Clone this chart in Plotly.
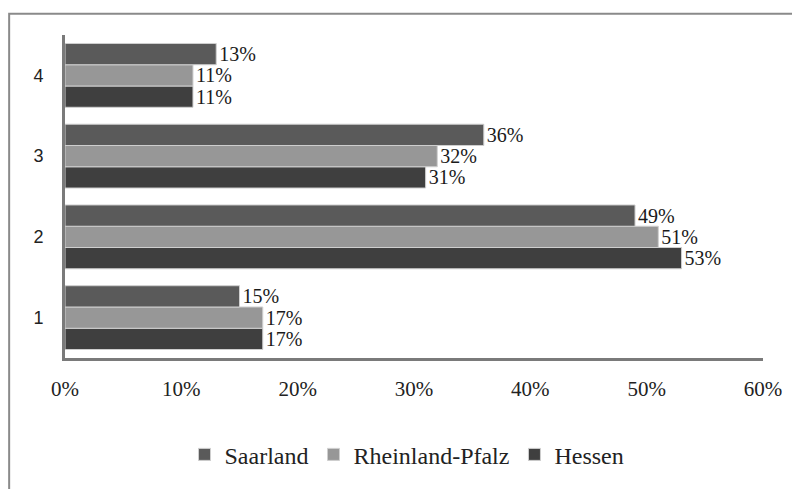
import plotly.graph_objects as go

categories = ["1", "2", "3", "4"]
saarland = [15, 49, 36, 13]
rheinland_pfalz = [17, 51, 32, 11]
hessen = [17, 53, 31, 11]
x_ticks = [0, 10, 20, 30, 40, 50, 60]

serif = "Liberation Serif, Times New Roman, serif"

fig = go.Figure()
# plotly draws the first trace at the bottom of each group
for name, vals, color in [
    ("Hessen", hessen, "#3f3f3f"),
    ("Rheinland-Pfalz", rheinland_pfalz, "#979797"),
    ("Saarland", saarland, "#5a5a5a"),
]:
    fig.add_trace(go.Bar(
        y=categories,
        x=vals,
        name=name,
        orientation="h",
        marker={"color": color, "line": {"color": "#cfcfcf", "width": 1}},
        text=[f"{v}%" for v in vals],
        textposition="outside",
        constraintext="none",
        textfont={"family": serif, "size": 20, "color": "#1a1a1a"},
        cliponaxis=False,
    ))

# outer frame of the original picture
fig.add_shape(type="rect", xref="paper", yref="paper",
              x0=-0.08, x1=1.1, y0=-0.45, y1=1.066,
              line={"color": "#8a8a8a", "width": 2}, layer="below")

# page body has an 8px margin, so the figure is a bit smaller than the window
fig.update_layout(
    width=792, height=481,
    barmode="group",
    bargap=0.21,
    bargroupgap=0,
    plot_bgcolor="white",
    paper_bgcolor="white",
    margin={"l": 57, "r": 37, "t": 27, "b": 119},
    xaxis={
        "range": [0, 60],
        "tickvals": x_ticks,
        "ticktext": [f"{t}%" for t in x_ticks],
        "showgrid": False,
        "zeroline": False,
        "showline": True,
        "linecolor": "#7a7a7a",
        "linewidth": 3,
        "ticks": "",
        "automargin": False,
        "ticklabelstandoff": 10,
        "tickfont": {"family": serif, "size": 21, "color": "#222"},
    },
    yaxis={
        "showgrid": False,
        "zeroline": False,
        "showline": True,
        "linecolor": "#7a7a7a",
        "linewidth": 3,
        "ticks": "",
        "automargin": False,
        "ticklabelstandoff": 15,
        "tickfont": {"family": "Liberation Sans, Arial, sans-serif", "size": 18, "color": "#222"},
    },
    legend={
        "orientation": "h",
        "traceorder": "reversed",
        "x": 0.49, "xanchor": "center",
        "y": -0.23, "yanchor": "top",
        "font": {"family": serif, "size": 24, "color": "#222"},
        "itemwidth": 30,
    },
    showlegend=True,
)

fig.write_html("out.html")
